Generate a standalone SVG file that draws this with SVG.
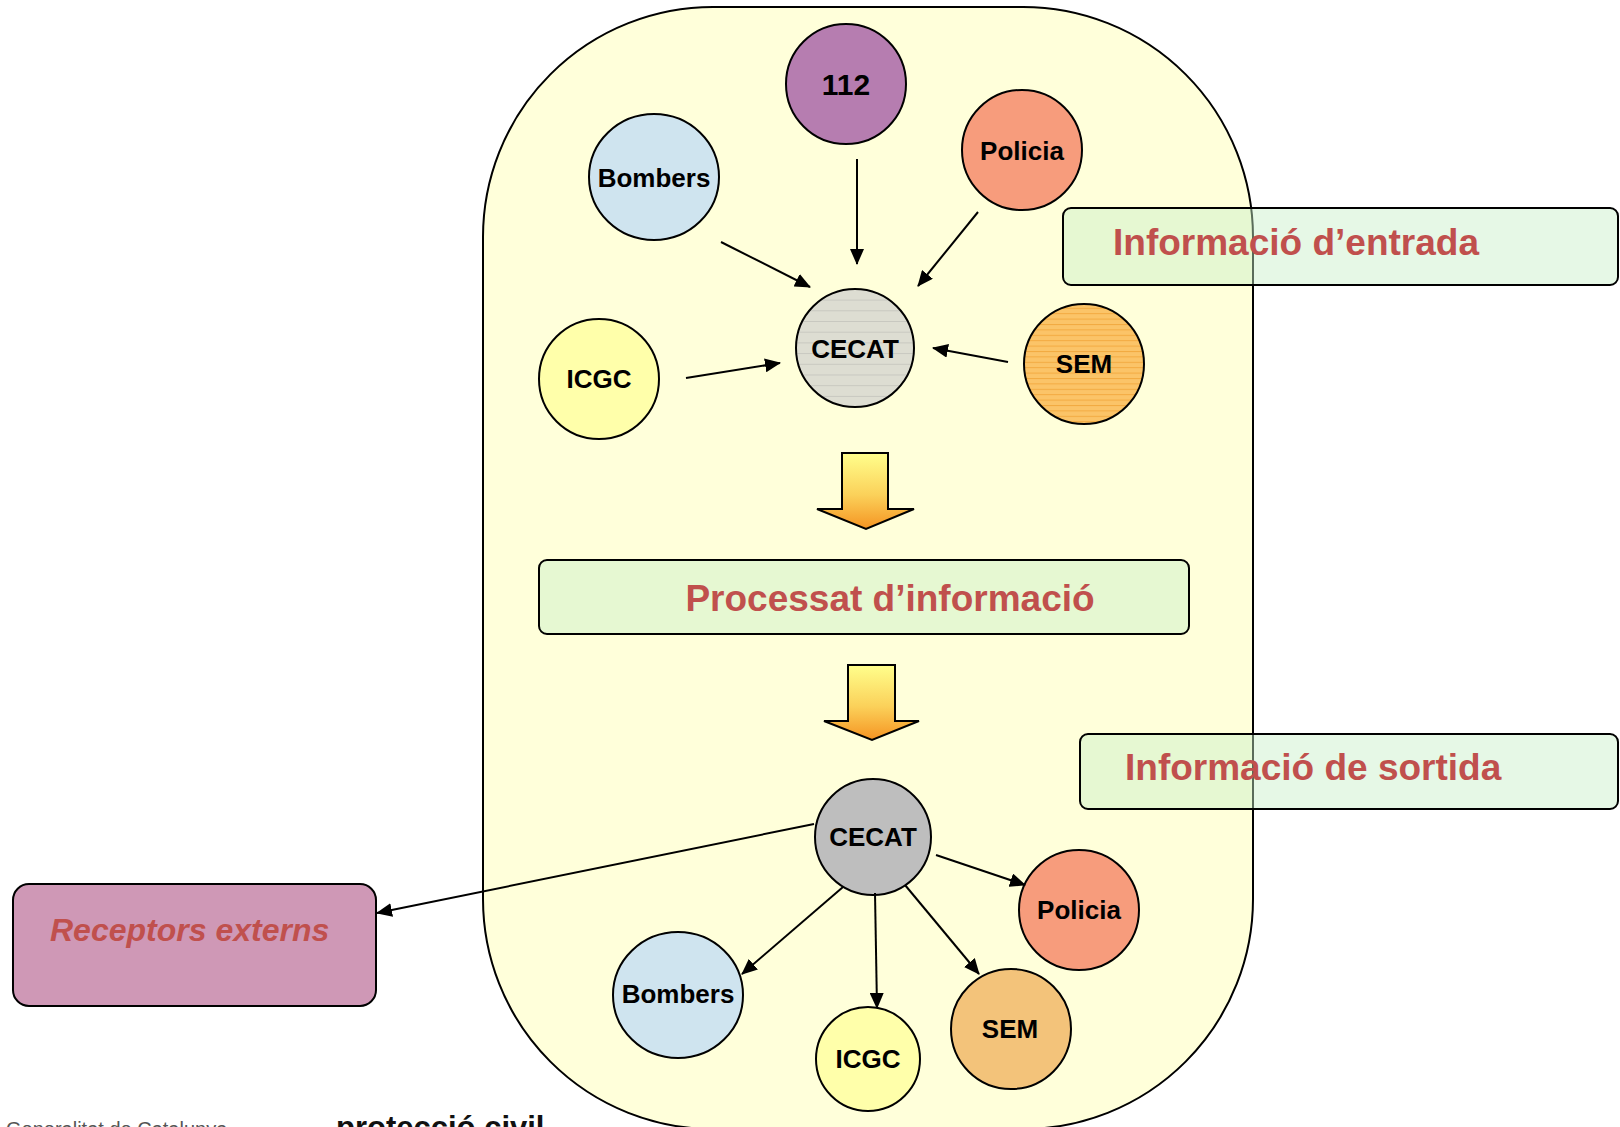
<svg xmlns="http://www.w3.org/2000/svg" width="1620" height="1127" viewBox="0 0 1620 1127">
<defs>
<style>
.node{stroke:#000;stroke-width:2}
.lbl{font-family:"Liberation Sans",Arial,sans-serif;font-weight:bold;font-size:26px;fill:#000;text-anchor:middle}
.title{font-family:"Liberation Sans",Arial,sans-serif;font-weight:bold;font-size:37px;fill:#C0504D}
.box{fill:#C8F0C8;fill-opacity:0.45;stroke:#000;stroke-width:2}
.conn{stroke:#000;stroke-width:2;fill:none;marker-end:url(#ah)}
.blk{fill:url(#gr);stroke:#000;stroke-width:2;stroke-linejoin:miter}
</style>
<marker id="ah" viewBox="0 0 16 14" refX="15" refY="7" markerWidth="16" markerHeight="14" markerUnits="userSpaceOnUse" orient="auto">
<path d="M0,0 L16,7 L0,14 z" fill="#000"/>
</marker>
<linearGradient id="gr" x1="0" y1="0" x2="0" y2="1">
<stop offset="0" stop-color="#FFFF8C"/>
<stop offset="0.55" stop-color="#FBD15A"/>
<stop offset="1" stop-color="#F59422"/>
</linearGradient>
<pattern id="pCecat" width="12" height="10.7" patternUnits="userSpaceOnUse">
<rect width="12" height="10.7" fill="#DDDDD2"/>
<line x1="0" y1="0.5" x2="12" y2="0.5" stroke="#C8C8C0" stroke-width="1"/>
</pattern>
<pattern id="pSem" width="12" height="5.4" patternUnits="userSpaceOnUse">
<rect width="12" height="5.4" fill="#FBC468"/>
<line x1="0" y1="0.5" x2="12" y2="0.5" stroke="#F2AA40" stroke-width="1"/>
</pattern>
</defs>

<g id="container">
<rect x="483" y="7" width="770" height="1122" rx="230" ry="230" fill="#FFFFDA" stroke="#000" stroke-width="2"/>
</g>

<g id="box-entrada">
<rect class="box" x="1063" y="208" width="555" height="77" rx="8"/>
<text class="title" x="1113" y="255">Informació d’entrada</text>
</g>

<g id="box-processat">
<rect class="box" x="539" y="560" width="650" height="74" rx="8"/>
<text class="title" x="890" y="611" text-anchor="middle">Processat d’informació</text>
</g>

<g id="box-sortida">
<rect class="box" x="1080" y="734" width="538" height="75" rx="8"/>
<text class="title" x="1125" y="780">Informació de sortida</text>
</g>

<g id="receptors">
<rect x="13" y="884" width="363" height="122" rx="16" fill="#CF98B6" stroke="#000" stroke-width="2"/>
<text x="50" y="941" font-family="'Liberation Sans',Arial,sans-serif" font-weight="bold" font-style="italic" font-size="32" fill="#C0504D">Receptors externs</text>
</g>

<g id="n112">
<circle class="node" cx="846" cy="84" r="60" fill="#B67DB0"/>
<text class="lbl" x="846" y="95" style="font-size:30px">112</text>
</g>
<g id="bombers-in">
<ellipse class="node" cx="654" cy="177" rx="65" ry="63" fill="#CFE4EF"/>
<text class="lbl" x="654" y="187">Bombers</text>
</g>
<g id="policia-in">
<circle class="node" cx="1022" cy="150" r="60" fill="#F79C7C"/>
<text class="lbl" x="1022" y="160">Policia</text>
</g>
<g id="cecat-in">
<circle class="node" cx="855" cy="348" r="59" fill="url(#pCecat)"/>
<text class="lbl" x="855" y="358">CECAT</text>
</g>
<g id="icgc-in">
<circle class="node" cx="599" cy="379" r="60" fill="#FFFFAA"/>
<text class="lbl" x="599" y="388">ICGC</text>
</g>
<g id="sem-in">
<circle class="node" cx="1084" cy="364" r="60" fill="url(#pSem)"/>
<text class="lbl" x="1084" y="373">SEM</text>
</g>

<g id="arrow1">
<path class="blk" d="M842,453 L888,453 L888,509 L914,509 L866,529 L817,509 L842,509 Z"/>
</g>
<g id="arrow2">
<path class="blk" d="M848,665 L895,665 L895,721 L919,721 L872,740 L824,721 L848,721 Z"/>
</g>

<g id="cecat-out">
<circle class="node" cx="873" cy="837" r="58" fill="#BEBEBE"/>
<text class="lbl" x="873" y="846">CECAT</text>
</g>
<g id="policia-out">
<circle class="node" cx="1079" cy="910" r="60" fill="#F79C7C"/>
<text class="lbl" x="1079" y="919">Policia</text>
</g>
<g id="bombers-out">
<ellipse class="node" cx="678" cy="995" rx="65" ry="63" fill="#CFE4EF"/>
<text class="lbl" x="678" y="1003">Bombers</text>
</g>
<g id="icgc-out">
<circle class="node" cx="868" cy="1059" r="52" fill="#FFFFAA"/>
<text class="lbl" x="868" y="1068">ICGC</text>
</g>
<g id="sem-out">
<circle class="node" cx="1011" cy="1029" r="60" fill="#F3C37A"/>
<text class="lbl" x="1010" y="1038">SEM</text>
</g>

<g id="connectors">
<line class="conn" x1="857" y1="159" x2="857" y2="264"/>
<line class="conn" x1="978" y1="212" x2="918" y2="286"/>
<line class="conn" x1="721" y1="242" x2="810" y2="287"/>
<line class="conn" x1="686" y1="378" x2="780" y2="363"/>
<line class="conn" x1="1008" y1="362" x2="933" y2="348"/>
<line class="conn" x1="814" y1="824" x2="377" y2="913"/>
<line class="conn" x1="936" y1="855" x2="1025" y2="885"/>
<line class="conn" x1="843" y1="887" x2="742" y2="974"/>
<line class="conn" x1="875" y1="893" x2="877" y2="1008"/>
<line class="conn" x1="905" y1="885" x2="979" y2="974"/>
</g>

<g id="footer">
<text x="6" y="1136" font-family="'Liberation Sans',Arial,sans-serif" font-size="20" fill="#555">Generalitat de Catalunya</text>
<text x="336" y="1138" font-family="'Liberation Sans',Arial,sans-serif" font-weight="bold" font-size="31" fill="#111">protecció civil</text>
</g>
</svg>
